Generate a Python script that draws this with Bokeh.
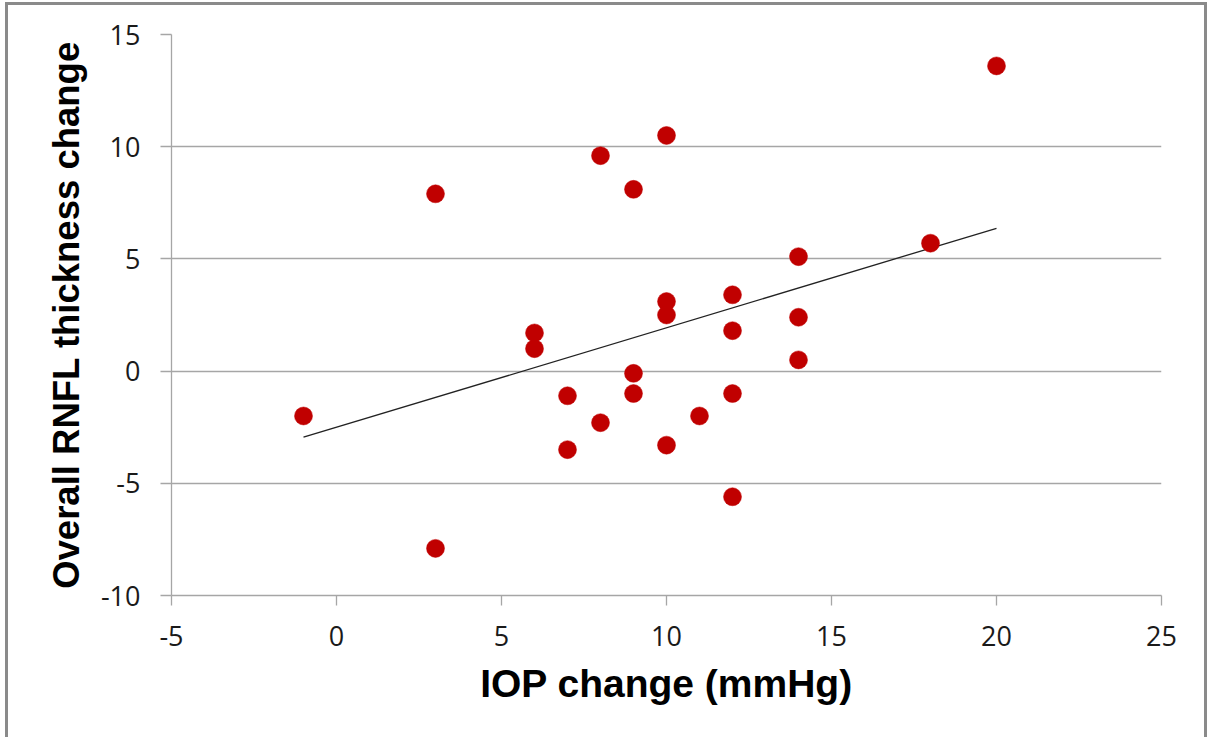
import numpy as np
from bokeh.plotting import figure
from bokeh.models import FixedTicker, CustomJSTickFormatter
from bokeh.embed import file_html
from bokeh.resources import INLINE

iop_change = [-1, 3, 3, 6, 6, 7, 7, 8, 8, 9, 9, 9, 10, 10, 10, 10, 11, 12, 12, 12, 12, 14, 14, 14, 18, 20]
rnfl_change = [-2.0, 7.9, -7.9, 1.7, 1.0, -1.1, -3.5, 9.6, -2.3, 8.1, -0.1, -1.0, 10.5, 3.1, 2.5, -3.3,
               -2.0, 3.4, 1.8, -1.0, -5.6, 5.1, 2.4, 0.5, 5.7, 13.6]
x_ticks = [-5, 0, 5, 10, 15, 20, 25]
y_ticks = [-10, -5, 0, 5, 10, 15]

p = figure(width=1202, height=735, output_backend="svg", toolbar_location=None,
           x_range=(-5, 25), y_range=(-10, 15),
           min_border_left=163, min_border_right=49, min_border_top=29, min_border_bottom=145,
           styles={"border": "3px solid #8a8a8a", "border-bottom": "none", "margin-left": "5px", "margin-top": "2px"})
p.outline_line_color = None
p.background_fill_color = "white"

fmt = CustomJSTickFormatter(code="return String(tick);")
p.xaxis.ticker = FixedTicker(ticks=x_ticks)
p.yaxis.ticker = FixedTicker(ticks=y_ticks)
p.xaxis.formatter = fmt
p.yaxis.formatter = fmt
p.xgrid.grid_line_color = None
p.ygrid.grid_line_color = "#a6a6a6"
p.ygrid.grid_line_width = 1.3

for ax in (p.xaxis, p.yaxis):
    ax.axis_line_color = "#a6a6a6"
    ax.axis_line_width = 1.3
    ax.major_tick_line_color = "#a6a6a6"
    ax.major_tick_line_width = 1.3
    ax.major_tick_in = 0
    ax.minor_tick_line_color = None
    ax.major_label_text_font = "Open Sans"
    ax.major_label_text_font_size = "27px"
    ax.major_label_text_color = "#1a1a1a"
    ax.axis_label_text_font = "Liberation Sans"
    ax.axis_label_text_font_style = "bold"
    ax.axis_label_text_color = "black"

p.xaxis.axis_label_text_font_size = "39px"
p.yaxis.axis_label_text_font_size = "36.5px"
p.xaxis.major_tick_out = 10
p.yaxis.major_tick_out = 11
p.xaxis.major_label_standoff = 20
p.yaxis.major_label_standoff = 20
p.xaxis.axis_label = "IOP change (mmHg)"
p.yaxis.axis_label = "Overall RNFL thickness change"
p.xaxis.axis_label_standoff = 13
p.yaxis.axis_label_standoff = 11

# Linear trendline (least squares) drawn across the data range
slope, intercept = np.polyfit(iop_change, rnfl_change, 1)
tx = [min(iop_change), max(iop_change)]
ty = [slope * v + intercept for v in tx]
p.line(tx, ty, line_color="#222222", line_width=1.3)

p.scatter(iop_change, rnfl_change, size=18, fill_color="#c00000", line_color="#c00000", line_width=0.5)

open("out.html", "w").write(file_html(p, INLINE))
